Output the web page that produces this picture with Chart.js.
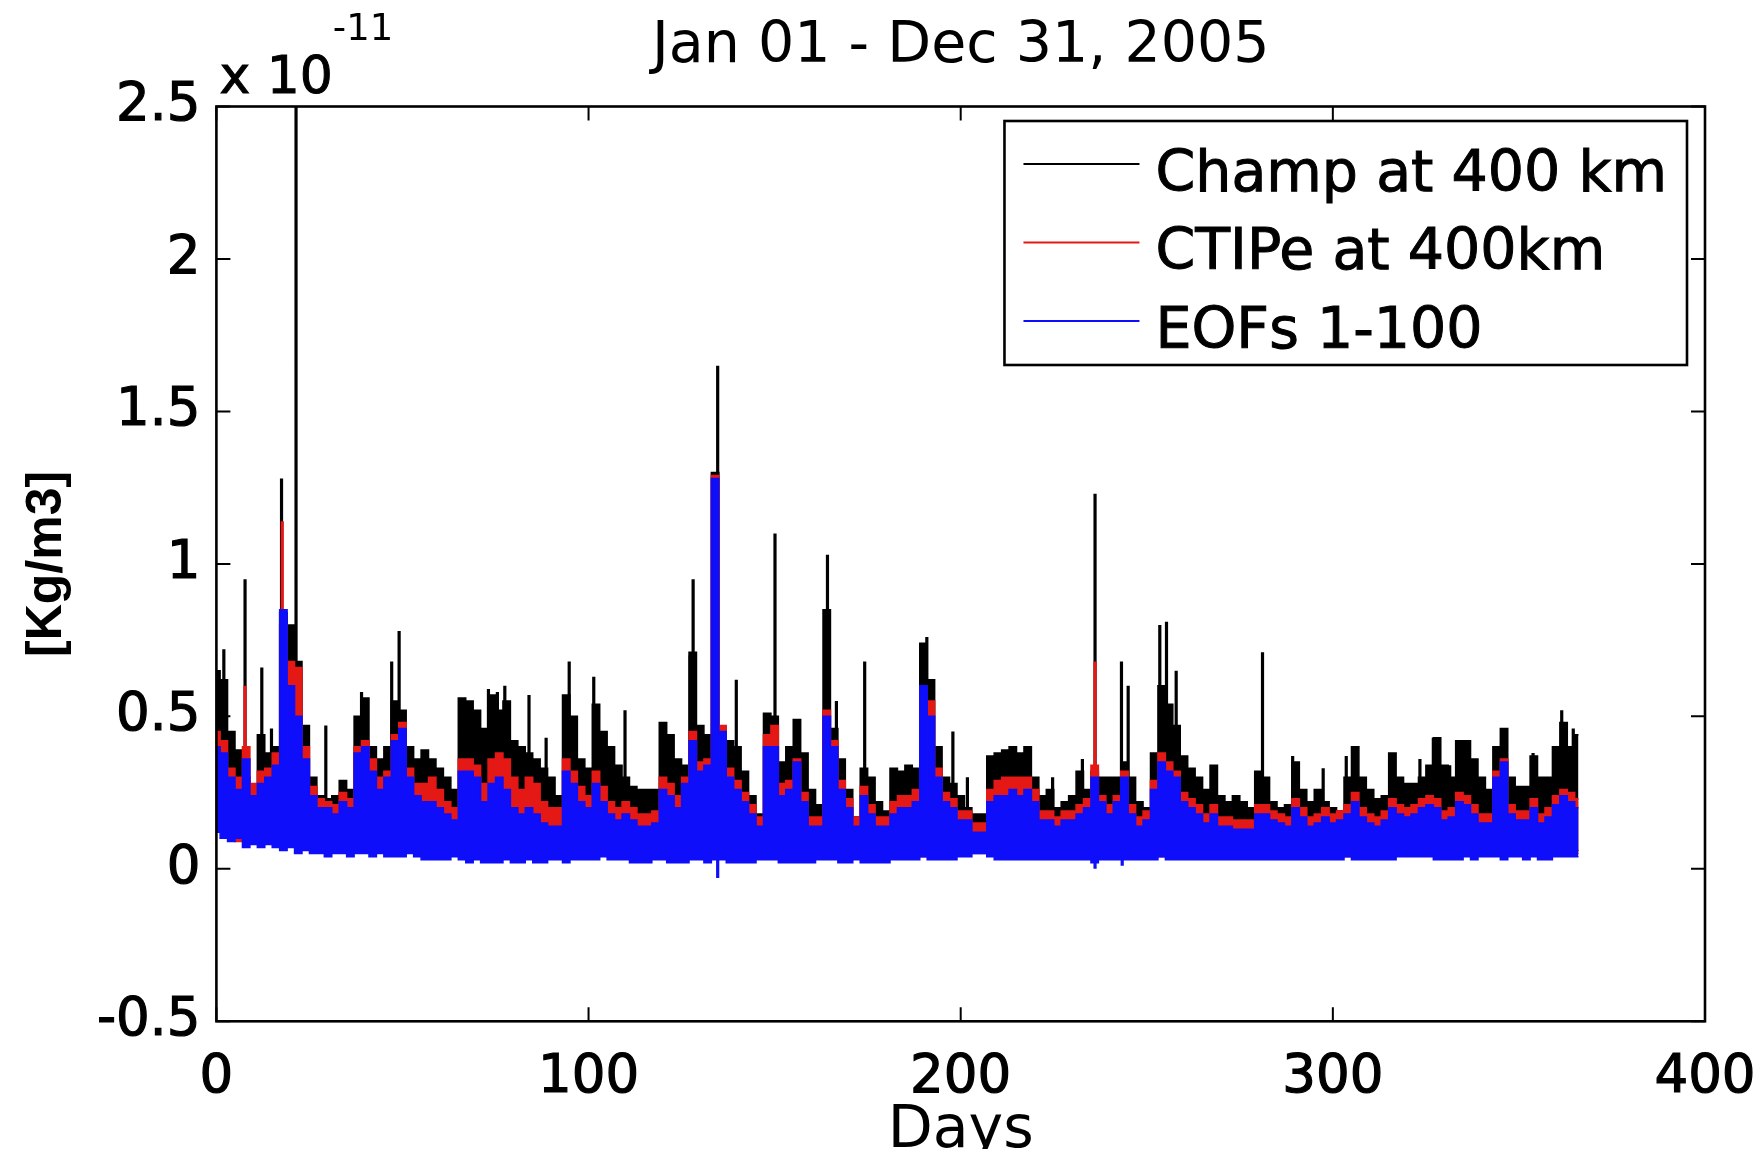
<!DOCTYPE html>
<html>
<head>
<meta charset="utf-8">
<script src="https://cdn.jsdelivr.net/npm/chart.js@4.4.1/dist/chart.umd.min.js"></script>
<style>
  html, body { margin: 0; padding: 0; background: #fff; overflow: hidden; }
  #wrap { width: 1758px; height: 1200px; }
</style>
</head>
<body>
<div id="wrap"><canvas id="myChart"></canvas></div>
<script>
// values in units of 1e-11 kg/m3
const TITLE = 'Jan 01 - Dec 31, 2005';
const X_LABEL = 'Days';
const Y_LABEL = '[Kg/m3]';
const EXP_BASE = 'x 10';
const EXP_POWER = '-11';
const xTicks = [0, 100, 200, 300, 400];
const yTicks = [-0.5, 0, 0.5, 1, 1.5, 2, 2.5];
const seriesNames = ['Champ at 400 km', 'CTIPe at 400km', 'EOFs 1-100'];

const days = [
  0, 2, 4, 6, 8, 10, 12, 14, 16, 18,
  20, 22, 24, 26, 28, 30, 32, 34, 36, 38,
  40, 42, 44, 46, 48, 50, 52, 54, 56, 58,
  60, 62, 64, 66, 68, 70, 72, 74, 76, 78,
  80, 82, 84, 86, 88, 90, 92, 94, 96, 98,
  100, 102, 104, 106, 108, 110, 112, 114, 116, 118,
  120, 122, 124, 126, 128, 130, 132, 134, 136, 138,
  140, 142, 144, 146, 148, 150, 152, 154, 156, 158,
  160, 162, 164, 166, 168, 170, 172, 174, 176, 178,
  180, 182, 184, 186, 188, 190, 192, 194, 196, 198,
  200, 202, 204, 206, 208, 210, 212, 214, 216, 218,
  220, 222, 224, 226, 228, 230, 232, 234, 236, 238,
  240, 242, 244, 246, 248, 250, 252, 254, 256, 258,
  260, 262, 264, 266, 268, 270, 272, 274, 276, 278,
  280, 282, 284, 286, 288, 290, 292, 294, 296, 298,
  300, 302, 304, 306, 308, 310, 312, 314, 316, 318,
  320, 322, 324, 326, 328, 330, 332, 334, 336, 338,
  340, 342, 344, 346, 348, 350, 352, 354, 356, 358,
  360, 362, 364, 366
];
const loDays = [
  0, 10, 20, 30, 40, 50, 60, 70, 80, 90,
  100, 110, 120, 130, 140, 150, 160, 170, 180, 190,
  200, 210, 220, 230, 240, 250, 260, 270, 280, 290,
  300, 310, 320, 330, 340, 350, 360, 366
];

// Champ: upper envelope of the orbit-to-orbit swing
const champHi = [
  0.65, 0.62, 0.45, 0.39, 0.30, 0.27, 0.44, 0.38, 0.40, 0.84,
  0.80, 0.68, 0.47, 0.30, 0.24, 0.23, 0.24, 0.29, 0.26, 0.50,
  0.56, 0.40, 0.36, 0.40, 0.55, 0.52, 0.40, 0.36, 0.39, 0.36,
  0.33, 0.30, 0.26, 0.56, 0.55, 0.52, 0.46, 0.57, 0.52, 0.55,
  0.42, 0.40, 0.38, 0.36, 0.33, 0.30, 0.24, 0.57, 0.50, 0.36,
  0.33, 0.54, 0.45, 0.40, 0.34, 0.30, 0.27, 0.26, 0.26, 0.26,
  0.48, 0.44, 0.36, 0.34, 0.71, 0.47, 0.44, 1.30, 0.46, 0.42,
  0.40, 0.32, 0.24, 0.18, 0.51, 0.50, 0.35, 0.40, 0.49, 0.38,
  0.26, 0.21, 0.85, 0.46, 0.36, 0.26, 0.17, 0.33, 0.30, 0.22,
  0.19, 0.33, 0.32, 0.34, 0.33, 0.74, 0.62, 0.40, 0.30, 0.28,
  0.24, 0.20, 0.18, 0.18, 0.37, 0.38, 0.39, 0.40, 0.38, 0.40,
  0.30, 0.24, 0.26, 0.20, 0.22, 0.24, 0.32, 0.26, 0.32, 0.30,
  0.30, 0.30, 0.35, 0.30, 0.22, 0.20, 0.38, 0.60, 0.54, 0.47,
  0.37, 0.33, 0.30, 0.26, 0.34, 0.24, 0.22, 0.24, 0.22, 0.20,
  0.32, 0.30, 0.22, 0.20, 0.21, 0.35, 0.26, 0.22, 0.26, 0.22,
  0.20, 0.19, 0.30, 0.40, 0.30, 0.26, 0.23, 0.24, 0.38, 0.30,
  0.28, 0.28, 0.30, 0.34, 0.43, 0.34, 0.30, 0.42, 0.42, 0.36,
  0.30, 0.26, 0.40, 0.46, 0.30, 0.27, 0.27, 0.37, 0.30, 0.30,
  0.40, 0.48, 0.40, 0.44
];
const champLo = [
  0.14, 0.10, 0.09, 0.08, 0.08, 0.07, 0.06, 0.06, 0.05, 0.06,
  0.06, 0.05, 0.05, 0.05, 0.05, 0.05, 0.05, 0.05, 0.05, 0.05,
  0.06, 0.06, 0.05, 0.05, 0.05, 0.05, 0.05, 0.05, 0.05, 0.05,
  0.05, 0.06, 0.06, 0.06, 0.06, 0.06, 0.06, 0.06
];
const champSpikeDays = [
  2.0, 7.7, 12.2, 14.8, 17.5, 21.4, 29.4, 39.0, 47.1, 49.1,
  73.1, 75.5, 77.5, 84.0, 88.6, 94.8, 101.4, 109.8, 127.3, 128.1,
  134.7, 139.7, 150.1, 164.2, 166.6, 174.2, 190.9, 197.9, 201.8, 224.7,
  232.7, 236.1, 243.2, 245.0, 253.5, 255.3, 257.9, 268.7, 281.1, 289.2,
  297.4, 303.6, 323.4, 327.0, 331.4, 345.5, 353.8, 361.5, 364.6
];
const champSpikeValues = [
  0.72, 0.95, 0.66, 0.46, 1.28, 2.6, 0.47, 0.58, 0.68, 0.78,
  0.59, 0.58, 0.60, 0.57, 0.43, 0.68, 0.63, 0.52, 0.70, 0.95,
  1.65, 0.62, 1.10, 1.03, 0.55, 0.68, 0.76, 0.45, 0.30, 0.30,
  0.36, 1.23, 0.68, 0.60, 0.80, 0.81, 0.65, 0.34, 0.71, 0.37,
  0.33, 0.37, 0.36, 0.43, 0.34, 0.46, 0.38, 0.52, 0.46
];

// CTIPe model
const ctipeHi = [
  0.45, 0.42, 0.33, 0.30, 0.40, 0.28, 0.32, 0.33, 0.38, 0.80,
  0.68, 0.66, 0.40, 0.27, 0.23, 0.22, 0.21, 0.25, 0.23, 0.40,
  0.42, 0.36, 0.30, 0.32, 0.44, 0.48, 0.33, 0.28, 0.28, 0.30,
  0.26, 0.22, 0.20, 0.36, 0.36, 0.34, 0.28, 0.36, 0.38, 0.36,
  0.30, 0.26, 0.30, 0.28, 0.22, 0.20, 0.20, 0.36, 0.32, 0.27,
  0.24, 0.32, 0.27, 0.22, 0.20, 0.22, 0.20, 0.18, 0.18, 0.19,
  0.30, 0.28, 0.24, 0.30, 0.45, 0.35, 0.36, 1.29, 0.47, 0.33,
  0.29, 0.25, 0.21, 0.17, 0.44, 0.47, 0.28, 0.29, 0.36, 0.25,
  0.17, 0.17, 0.52, 0.42, 0.29, 0.23, 0.17, 0.27, 0.21, 0.17,
  0.17, 0.22, 0.24, 0.24, 0.26, 0.58, 0.55, 0.33, 0.25, 0.23,
  0.19, 0.19, 0.15, 0.15, 0.26, 0.29, 0.30, 0.30, 0.30, 0.30,
  0.26, 0.19, 0.19, 0.17, 0.19, 0.19, 0.21, 0.23, 0.34, 0.24,
  0.21, 0.24, 0.32, 0.21, 0.17, 0.19, 0.29, 0.38, 0.35, 0.32,
  0.25, 0.23, 0.21, 0.18, 0.21, 0.17, 0.17, 0.16, 0.16, 0.16,
  0.21, 0.21, 0.19, 0.18, 0.17, 0.23, 0.20, 0.17, 0.18, 0.20,
  0.18, 0.19, 0.21, 0.25, 0.20, 0.18, 0.17, 0.19, 0.23, 0.21,
  0.20, 0.21, 0.23, 0.24, 0.23, 0.19, 0.20, 0.25, 0.24, 0.21,
  0.18, 0.18, 0.32, 0.36, 0.21, 0.19, 0.19, 0.23, 0.18, 0.20,
  0.24, 0.26, 0.25, 0.23
];
const ctipeLo = [
  0.13, 0.09, 0.08, 0.07, 0.07, 0.06, 0.05, 0.05, 0.05, 0.05,
  0.05, 0.04, 0.04, 0.04, 0.04, 0.04, 0.04, 0.05, 0.04, 0.04,
  0.05, 0.05, 0.04, 0.04, 0.04, 0.04, 0.04, 0.04, 0.04, 0.04,
  0.04, 0.05, 0.05, 0.05, 0.05, 0.05, 0.05, 0.05
];
const ctipeSpikeDays = [7.7, 17.7, 236.1];
const ctipeSpikeValues = [0.60, 1.14, 0.68];

// EOF reconstruction, modes 1-100
const eofHi = [
  0.40, 0.38, 0.30, 0.26, 0.36, 0.24, 0.28, 0.30, 0.34, 0.85,
  0.60, 0.50, 0.36, 0.24, 0.20, 0.20, 0.18, 0.22, 0.20, 0.38,
  0.40, 0.32, 0.26, 0.30, 0.42, 0.46, 0.30, 0.24, 0.22, 0.22,
  0.20, 0.18, 0.16, 0.32, 0.32, 0.30, 0.22, 0.28, 0.30, 0.26,
  0.20, 0.18, 0.20, 0.18, 0.15, 0.14, 0.14, 0.32, 0.28, 0.22,
  0.20, 0.28, 0.22, 0.18, 0.16, 0.18, 0.16, 0.14, 0.14, 0.15,
  0.26, 0.24, 0.20, 0.28, 0.42, 0.32, 0.34, 1.28, 0.45, 0.30,
  0.26, 0.22, 0.18, 0.14, 0.40, 0.40, 0.24, 0.26, 0.35, 0.22,
  0.14, 0.14, 0.50, 0.40, 0.26, 0.20, 0.14, 0.24, 0.18, 0.14,
  0.14, 0.18, 0.20, 0.20, 0.22, 0.60, 0.50, 0.30, 0.22, 0.20,
  0.16, 0.16, 0.12, 0.12, 0.22, 0.24, 0.24, 0.26, 0.24, 0.26,
  0.22, 0.16, 0.16, 0.14, 0.16, 0.16, 0.18, 0.20, 0.30, 0.22,
  0.18, 0.22, 0.30, 0.18, 0.14, 0.16, 0.26, 0.35, 0.32, 0.30,
  0.22, 0.20, 0.18, 0.15, 0.18, 0.14, 0.14, 0.13, 0.13, 0.13,
  0.18, 0.18, 0.16, 0.15, 0.14, 0.20, 0.17, 0.14, 0.15, 0.17,
  0.15, 0.16, 0.18, 0.22, 0.17, 0.15, 0.14, 0.16, 0.20, 0.18,
  0.17, 0.18, 0.20, 0.21, 0.20, 0.16, 0.17, 0.22, 0.21, 0.18,
  0.15, 0.15, 0.30, 0.35, 0.18, 0.16, 0.16, 0.20, 0.15, 0.17,
  0.21, 0.24, 0.22, 0.20
];
const eofLo = [
  0.12, 0.10, 0.09, 0.10, 0.07, 0.08, 0.07, 0.08, 0.07, 0.06,
  0.07, 0.05, 0.06, 0.05, 0.05, 0.04, 0.05, 0.05, 0.04, 0.05,
  0.05, 0.04, 0.05, 0.04, 0.04, 0.04, 0.05, 0.04, 0.03, 0.03,
  0.03, 0.03, 0.04, 0.03, 0.02, 0.03, 0.02, 0.02, 0.02, 0.03,
  0.02, 0.02, 0.03, 0.02, 0.02, 0.03, 0.03, 0.02, 0.03, 0.03,
  0.03, 0.03, 0.04, 0.03, 0.03, 0.03, 0.02, 0.02, 0.02, 0.03,
  0.03, 0.02, 0.02, 0.02, 0.03, 0.03, 0.02, 0.03, 0.03, 0.02,
  0.02, 0.02, 0.02, 0.03, 0.03, 0.03, 0.02, 0.02, 0.02, 0.02,
  0.02, 0.03, 0.03, 0.03, 0.02, 0.02, 0.03, 0.02, 0.02, 0.02,
  0.02, 0.03, 0.03, 0.03, 0.03, 0.04, 0.03, 0.03, 0.03, 0.03,
  0.04, 0.04, 0.05, 0.05, 0.04, 0.03, 0.03, 0.03, 0.03, 0.03,
  0.03, 0.03, 0.03, 0.03, 0.03, 0.03, 0.03, 0.03, 0.02, 0.03,
  0.03, 0.03, 0.03, 0.03, 0.03, 0.03, 0.03, 0.04, 0.03, 0.03,
  0.03, 0.03, 0.03, 0.03, 0.03, 0.03, 0.03, 0.03, 0.03, 0.03,
  0.03, 0.03, 0.03, 0.03, 0.03, 0.03, 0.03, 0.03, 0.03, 0.03,
  0.03, 0.03, 0.04, 0.03, 0.03, 0.03, 0.03, 0.03, 0.03, 0.04,
  0.04, 0.04, 0.04, 0.04, 0.03, 0.03, 0.03, 0.03, 0.04, 0.03,
  0.04, 0.04, 0.04, 0.03, 0.04, 0.04, 0.03, 0.04, 0.03, 0.03,
  0.04, 0.04, 0.04, 0.04
];
const eofSpikeDays = [134.7, 236.1, 243.4];
const eofSpikeValues = [-0.03, 0.0, 0.01];

const FONT = '"DejaVu Sans", sans-serif';
const FONT_Y = '"Liberation Sans", Arial, sans-serif';

const series = [
  { name: seriesNames[0], color: '#000000', hi: champHi, loX: loDays, lo: champLo, sd: champSpikeDays, sv: champSpikeValues, order: 3 },
  { name: seriesNames[1], color: 'rgb(228,24,20)', hi: ctipeHi, loX: loDays, lo: ctipeLo, sd: ctipeSpikeDays, sv: ctipeSpikeValues, order: 2 },
  { name: seriesNames[2], color: 'rgb(14,14,250)', hi: eofHi, loX: days, lo: eofLo, sd: eofSpikeDays, sv: eofSpikeValues, order: 1 }
];

const toPoints = (xs, ys) => xs.map((d, i) => ({ x: d, y: ys[i] }));
const nearest = (xs, d) =>
  xs.reduce((best, v, i) => Math.abs(v - d) < Math.abs(xs[best] - d) ? i : best, 0);
// each spike is a vertical stroke standing on the lower envelope
const spikePoints = s =>
  s.sd.flatMap((d, i) => [
    { x: d, y: s.lo[nearest(s.loX, d)] },
    { x: d, y: s.sv[i] },
    { x: d, y: null }
  ]);

const datasets = [];
series.forEach(s => {
  const common = { borderColor: s.color, backgroundColor: s.color, pointRadius: 0, tension: 0, order: s.order };
  datasets.push({ ...common, label: s.name, data: toPoints(days, s.hi), fill: '+1', stepped: 'middle', borderWidth: 1.5 });
  datasets.push({ ...common, label: s.name + ' (low)', data: toPoints(s.loX, s.lo), fill: false, stepped: 'middle', borderWidth: 1.5 });
  datasets.push({ ...common, label: s.name + ' (spikes)', data: spikePoints(s), fill: false, borderWidth: 3.2 });
});

const matlabFrame = {
  id: 'matlabFrame',
  afterDatasetsDraw(chart) {
    const { ctx, chartArea: a, scales: { x, y } } = chart;
    const tick = 14;
    ctx.save();
    ctx.strokeStyle = '#000';
    ctx.lineWidth = 2.6;
    ctx.strokeRect(a.left, a.top, a.right - a.left, a.bottom - a.top);
    ctx.lineWidth = 2;
    ctx.beginPath();
    xTicks.forEach(v => {
      const px = x.getPixelForValue(v);
      ctx.moveTo(px, a.bottom); ctx.lineTo(px, a.bottom - tick);
      ctx.moveTo(px, a.top); ctx.lineTo(px, a.top + tick);
    });
    yTicks.forEach(v => {
      const py = y.getPixelForValue(v);
      ctx.moveTo(a.left, py); ctx.lineTo(a.left + tick, py);
      ctx.moveTo(a.right, py); ctx.lineTo(a.right - tick, py);
    });
    ctx.stroke();

    // legend box, top right inside the axes
    ctx.font = '57px ' + FONT;
    const textW = Math.max(...series.map(s => ctx.measureText(s.name).width));
    const lineLen = 116, padL = 19, gap = 16, padR = 20;
    const boxW = padL + lineLen + gap + textW + padR;
    const boxH = 244;
    const bx = a.right - 18 - boxW;
    const by = a.top + 14.5;
    ctx.fillStyle = '#fff';
    ctx.fillRect(bx, by, boxW, boxH);
    ctx.lineWidth = 2.6;
    ctx.strokeRect(bx, by, boxW, boxH);
    ctx.textBaseline = 'middle';
    ctx.textAlign = 'left';
    series.forEach((s, i) => {
      const cy = by + 53 + i * 78.5;
      ctx.strokeStyle = s.color;
      ctx.lineWidth = 2;
      ctx.beginPath();
      ctx.moveTo(bx + padL, cy - 10);
      ctx.lineTo(bx + padL + lineLen, cy - 10);
      ctx.stroke();
      ctx.fillStyle = '#000';
      ctx.strokeStyle = '#000';
      ctx.lineWidth = 1;
      ctx.fillText(s.name, bx + padL + lineLen + gap, cy + 2);
      ctx.strokeText(s.name, bx + padL + lineLen + gap, cy + 2);
    });

    // axis exponent
    ctx.fillStyle = '#000';
    ctx.textBaseline = 'alphabetic';
    ctx.font = '52px ' + FONT;
    ctx.fillText(EXP_BASE, a.left + 3, a.top - 14);
    ctx.strokeText(EXP_BASE, a.left + 3, a.top - 14);
    const baseW = ctx.measureText(EXP_BASE).width;
    ctx.font = '37px ' + FONT;
    ctx.fillText(EXP_POWER, a.left + 3 + baseW, a.top - 67);
    ctx.restore();
  }
};

const container = document.getElementById('myChart');
new Chart(container, {
  type: 'line',
  data: { datasets },
  plugins: [matlabFrame],
  options: {
    responsive: true,
    maintainAspectRatio: false,
    animation: false,
    events: [],
    normalized: true,
    layout: { padding: { left: 0, right: 53, top: 0, bottom: 0 } },
    plugins: {
      legend: { display: false },
      tooltip: { enabled: false },
      title: {
        display: true,
        fullSize: false,
        text: TITLE,
        color: '#000',
        font: { family: FONT, size: 57, weight: 'normal', lineHeight: 1.2 },
        padding: { top: 12.8, bottom: 25.3 }
      }
    },
    scales: {
      x: {
        type: 'linear',
        min: 0,
        max: 400,
        afterBuildTicks: s => { s.ticks = xTicks.map(v => ({ value: v })); },
        afterFit: s => { s.height = 178.7; },
        grid: { display: false },
        border: { display: false },
        ticks: {
          color: '#000', font: { family: FONT, size: 53, lineHeight: 1.83 }, padding: 0, autoSkip: false, maxRotation: 0,
          textStrokeColor: '#000', textStrokeWidth: 1.2
        },
        title: {
          display: true, text: X_LABEL, color: '#000',
          font: { family: FONT, size: 58.5, lineHeight: 1.2 },
          padding: { top: 0, bottom: 33.6 }
        }
      },
      y: {
        min: -0.5,
        max: 2.5,
        afterBuildTicks: s => { s.ticks = yTicks.map(v => ({ value: v })); },
        afterFit: s => { s.width = 216.4; },
        grid: { display: false },
        border: { display: false },
        ticks: {
          color: '#000', font: { family: FONT, size: 53, lineHeight: 1.2 }, padding: 8, autoSkip: false,
          textStrokeColor: '#000', textStrokeWidth: 1.2,
          callback: v => String(v)
        },
        title: {
          display: true, text: Y_LABEL, color: '#000',
          font: { family: FONT_Y, size: 50, weight: 'bold', lineHeight: 1.2 },
          padding: { top: 17, bottom: 0 }
        }
      }
    }
  }
});
</script>
</body>
</html>
